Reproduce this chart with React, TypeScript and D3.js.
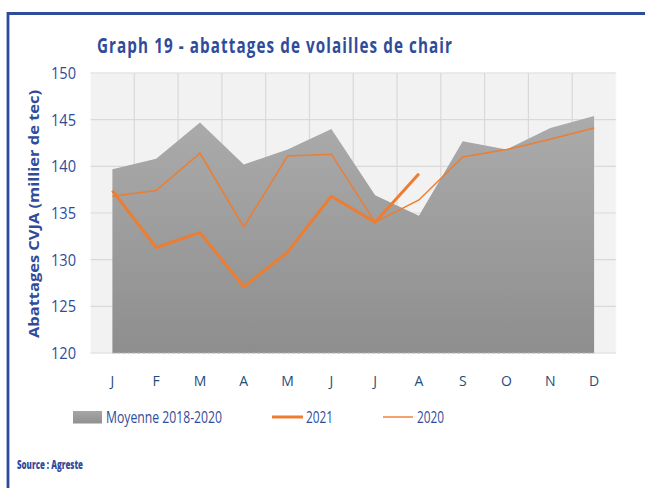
import React from "react";
import * as d3 from "d3";

const months = ["J", "F", "M", "A", "M", "J", "J", "A", "S", "O", "N", "D"];
const moyenne = [139.7, 140.8, 144.7, 140.2, 141.8, 144.0, 136.9, 134.7, 142.7, 141.8, 144.1, 145.4];
const y2021 = [137.4, 131.3, 132.9, 127.1, 130.8, 136.8, 134.0, 139.2];
const y2020 = [136.8, 137.4, 141.4, 133.5, 141.1, 141.3, 134.0, 136.4, 141.0, 141.8, 142.9, 144.1];
const yTicks = [120, 125, 130, 135, 140, 145, 150];

const W = 645;
const H = 488;
const blue = "#2F4C9B";
const orange = "#ED7D31";

export default function App() {
  const idx = months.map((_, i) => String(i));
  const x = d3.scaleBand<string>().domain(idx).range([90.5, 616]).paddingInner(0).paddingOuter(0);
  const y = d3.scaleLinear().domain([120, 150]).range([353, 73]);
  const cx = (i: number) => (x(String(i)) as number) + x.bandwidth() / 2;

  const area = d3
    .area<number>()
    .x((_, i) => cx(i))
    .y0(y(120))
    .y1((d) => y(d));
  const line = d3
    .line<number>()
    .x((_, i) => cx(i))
    .y((d) => y(d));

  return (
    <svg width={W} height={H} style={{ position: "absolute", left: 0, top: 0 }}>
      <defs>
        <linearGradient id="gArea" x1="0" y1="0" x2="0" y2="1">
          <stop offset="0%" stopColor="#ababab" />
          <stop offset="100%" stopColor="#8e8e8e" />
        </linearGradient>
        <linearGradient id="gLeg" x1="0" y1="0" x2="0" y2="1">
          <stop offset="0%" stopColor="#a6a6a6" />
          <stop offset="100%" stopColor="#909090" />
        </linearGradient>
      </defs>
      <rect x={0} y={0} width={W} height={H} fill="#fff" />
      <path d={`M8,${H} L8,13.5 L${W},13.5`} fill="none" stroke={blue} strokeWidth={2.8} />

      <text
        x={97}
        y={53}
        fill={blue}
        fontFamily="'Open Sans', sans-serif"
        fontWeight={700}
        fontSize={21}
        textLength={356}
        lengthAdjust="spacingAndGlyphs"
        letterSpacing={1.5}
      >
        Graph 19 - abattages de volailles de chair
      </text>

      <rect x={90.5} y={73} width={616 - 90.5} height={280} fill="#f2f2f2" stroke="#fafafa" strokeWidth={1} />
      {yTicks.map((t) => (
        <line key={"h" + t} x1={90.5} x2={616} y1={y(t)} y2={y(t)} stroke="#d9d9d9" strokeWidth={1.2} />
      ))}
      {idx.slice(1).map((k) => (
        <line key={"v" + k} x1={x(k)} x2={x(k)} y1={73} y2={353} stroke="#d9d9d9" strokeWidth={1.2} />
      ))}

      <path d={area(moyenne) || ""} fill="url(#gArea)" />
      <line x1={cx(0)} x2={cx(11)} y1={353} y2={353} stroke="#b4b4b4" strokeWidth={1} strokeDasharray="3,2" />
      <path d={line(y2020) || ""} fill="none" stroke={orange} strokeWidth={1.5} />
      <path d={line(y2021) || ""} fill="none" stroke={orange} strokeWidth={3} strokeLinejoin="round" />

      {yTicks.map((t) => (
        <text
          key={"yl" + t}
          x={76}
          y={y(t) + 6}
          textAnchor="end"
          fill={blue}
          fontFamily="'Open Sans', sans-serif"
          fontSize={16}
          textLength={25}
          lengthAdjust="spacingAndGlyphs"
        >
          {t}
        </text>
      ))}
      {months.map((m, i) => (
        <text
          key={"xl" + i}
          x={cx(i)}
          y={386}
          textAnchor="middle"
          fill="#1F4E79"
          fontFamily="'Open Sans', sans-serif"
          fontSize={14}
        >
          {m}
        </text>
      ))}

      <text
        transform={`translate(39,${(90 + 338) / 2}) rotate(-90)`}
        textAnchor="middle"
        fill={blue}
        fontFamily="'Open Sans', sans-serif"
        fontWeight={700}
        fontSize={14.5}
        textLength={248}
        lengthAdjust="spacingAndGlyphs"
      >
        Abattages CVJA (millier de tec)
      </text>

      <rect x={73} y={411} width={29} height={12.5} fill="url(#gLeg)" />
      <text x={106} y={423} fill={blue} fontFamily="'Open Sans', sans-serif" fontSize={16} textLength={116} lengthAdjust="spacingAndGlyphs">
        Moyenne 2018-2020
      </text>
      <line x1={272} x2={303} y1={417} y2={417} stroke={orange} strokeWidth={3} />
      <text x={306} y={423} fill={blue} fontFamily="'Open Sans', sans-serif" fontSize={16} textLength={27} lengthAdjust="spacingAndGlyphs">
        2021
      </text>
      <line x1={383} x2={413} y1={417} y2={417} stroke="#F4A26A" strokeWidth={2} />
      <text x={417} y={423} fill={blue} fontFamily="'Open Sans', sans-serif" fontSize={16} textLength={27} lengthAdjust="spacingAndGlyphs">
        2020
      </text>

      <text
        x={17}
        y={469}
        fill={blue}
        fontFamily="'Open Sans', sans-serif"
        fontWeight={800}
        fontSize={12}
        textLength={66}
        lengthAdjust="spacingAndGlyphs"
      >
        Source : Agreste
      </text>
    </svg>
  );
}
